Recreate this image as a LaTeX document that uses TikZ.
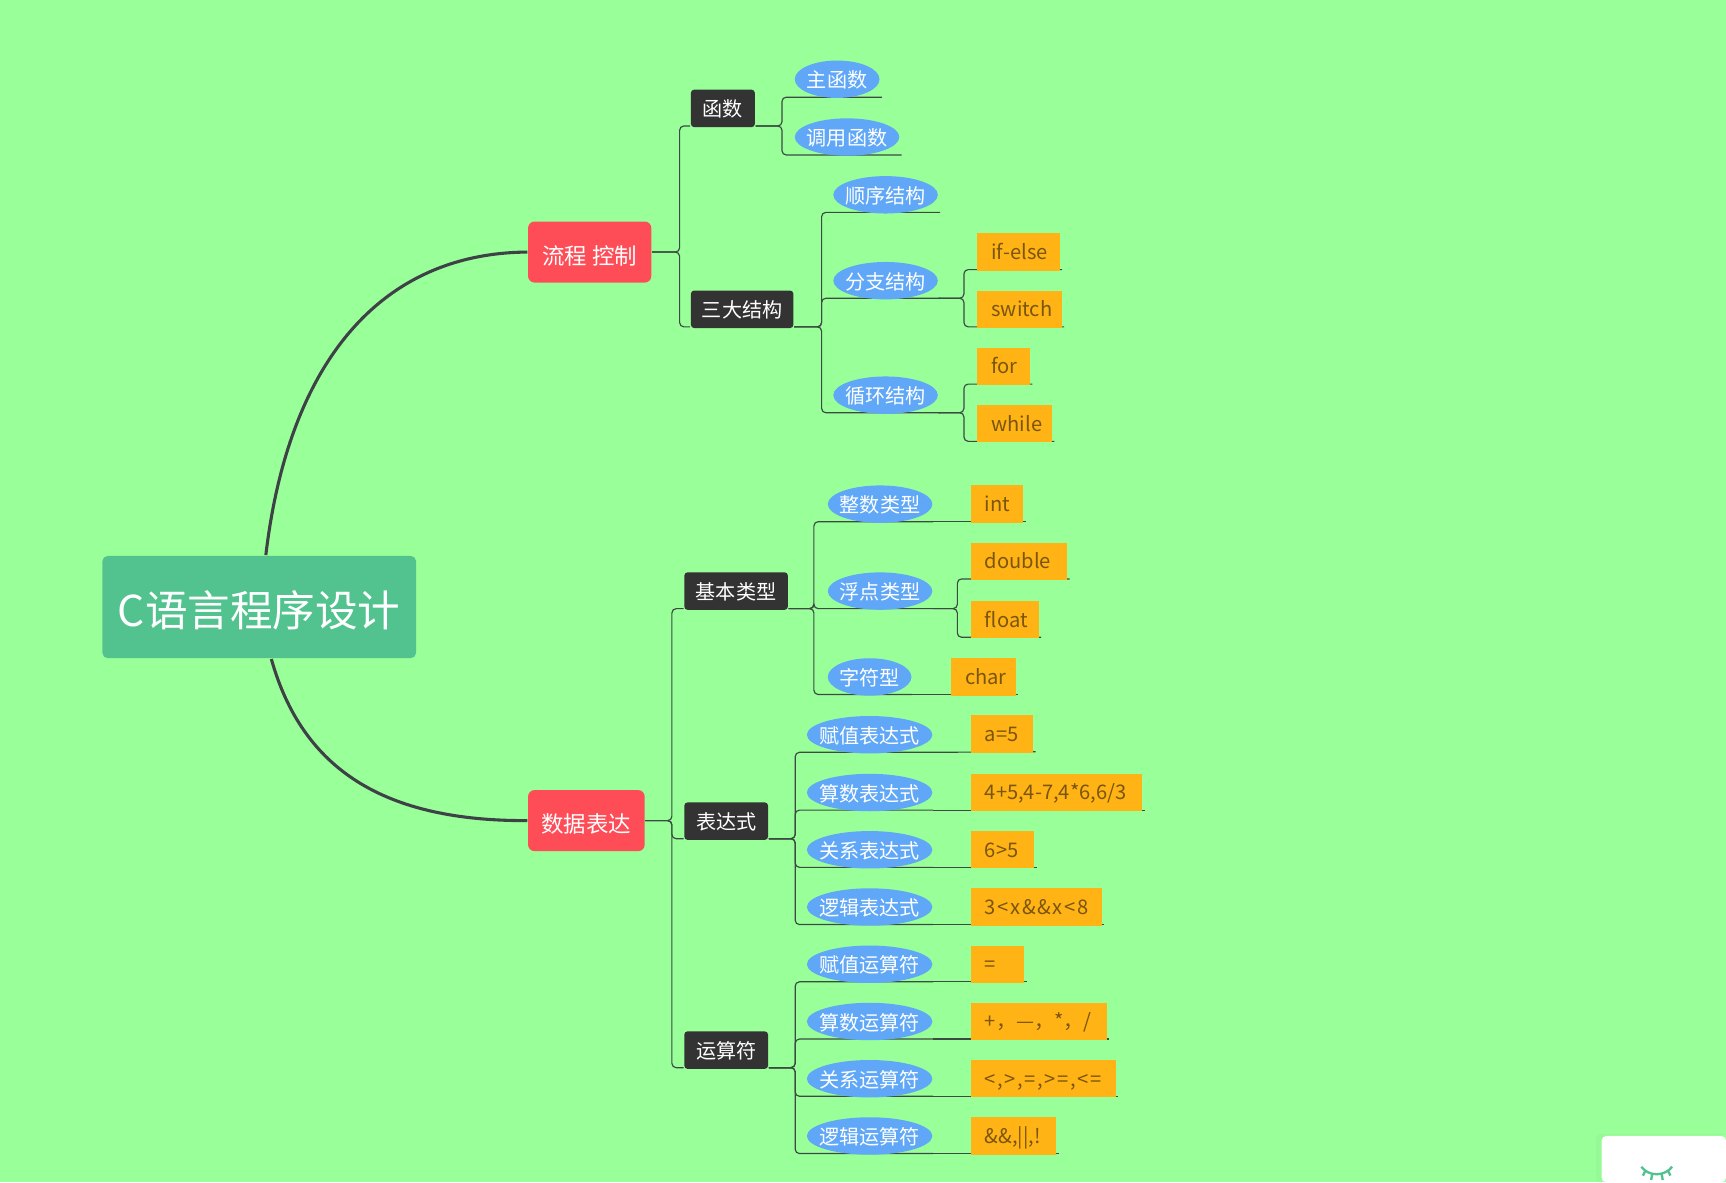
\documentclass[tikz,border=0pt]{standalone}
\usepackage{fontspec}
\setmainfont{Noto Sans CJK SC}
\usepackage{tikz}
\usetikzlibrary{backgrounds, shapes.geometric}
\definecolor{pagegreen}{HTML}{99FF99}
\definecolor{rootgreen}{HTML}{52C28F}
\definecolor{topicred}{HTML}{FF4D57}
\definecolor{subdark}{HTML}{333333}
\definecolor{itemblue}{HTML}{60A8F7}
\definecolor{leaforange}{HTML}{FFB314}
\definecolor{leaftext}{HTML}{7A5510}
\definecolor{linegrey}{HTML}{3B4A42}
\definecolor{trunkgrey}{HTML}{3E4145}
\newcommand{\wideops}{\addfontfeature{LetterSpace=8}}
\tikzset{
    rootbox/.style={fill=rootgreen, text=white, rounded corners=1.4pt, inner sep=0pt, minimum width=28.5mm, minimum height=9.3mm, text height=10.2pt, text depth=0pt, font=\fontsize{11pt}{12pt}\selectfont},
    topic/.style={fill=topicred, text=white, rounded corners=1.7pt, inner sep=0pt, minimum height=5.55mm, text height=6.2pt, text depth=0pt, anchor=west, font=\fontsize{5.8pt}{7pt}\selectfont},
    sub/.style={fill=subdark, text=white, rounded corners=.8pt, inner sep=0pt, minimum height=3.4mm, text height=4.4pt, text depth=0pt, anchor=west, font=\fontsize{5.2pt}{6pt}\selectfont},
    item/.style={ellipse, fill=itemblue, text=white, inner sep=-5mm, minimum height=3.4mm, text height=4.5pt, text depth=0pt, font=\fontsize{5.2pt}{6pt}\selectfont},
    leaf/.style={fill=leaforange, text=leaftext, inner xsep=1.3mm, inner ysep=0pt, minimum height=3.4mm, text height=4.7pt, text depth=.9pt, anchor=west, align=left, font=\fontsize{5.2pt}{6pt}\selectfont},
    link/.style={draw=linegrey, line width=.3pt, rounded corners=1.1pt},
    trunk/.style={draw=trunkgrey, line width=.8pt},
}
\begin{document}
\begin{tikzpicture}[x=.1mm, y=-.1mm]
    \useasboundingbox (0,0) rectangle (1568,1074);
    \begin{scope}[on background layer]
        \fill[pagegreen] (0,0) rectangle (1568,1074);
    \end{scope}

    % 中心主题
    \node[rootbox] (root) at (235.5,551.5) {C语言程序设计};

    % 流程控制
    \node[topic, minimum width=11.2mm] (flow) at (479,229) {流程 控制};
    \node[sub, minimum width=5.8mm] (func) at (627,98.5) {函数};
    \node[sub, minimum width=9.3mm] (struct) at (627,281) {三大结构};

    \node[item, minimum width=7.7mm] (mainfn) at (760.5,72) {主函数};
    \node[item, minimum width=9.5mm] (callfn) at (769.5,124.5) {调用函数};
    \node[item, minimum width=9.5mm] (seq) at (804.5,177) {顺序结构};
    \node[item, minimum width=9.5mm] (choice) at (804.5,255) {分支结构};
    \node[item, minimum width=9.5mm] (cycle) at (804.5,359) {循环结构};

    \node[leaf, text width=4.9mm] (ifelse) at (887,229) {\mbox{if-else}};
    \node[leaf, text width=5.1mm] (swi) at (887,281) {switch};
    \node[leaf, text width=2.2mm] (forl) at (887,333) {for};
    \node[leaf, text width=4.2mm] (whilel) at (887,385) {while};

    % 数据表达
    \node[topic, minimum width=10.6mm] (data) at (479,745.5) {数据表达};
    \node[sub, minimum width=9.4mm] (basic) at (621,537) {基本类型};
    \node[sub, minimum width=7.6mm] (expr) at (621,746) {表达式};
    \node[sub, minimum width=7.6mm] (oper) at (621,954) {运算符};

    % 基本类型
    \node[item, minimum width=9.5mm] (whole) at (799.5,458) {整数类型};
    \node[item, minimum width=9.5mm] (real) at (799.5,537) {浮点类型};
    \node[item, minimum width=7.6mm] (letter) at (790,615) {字符型};
    \node[leaf, text width=2.2mm] (intk) at (881,458) {int};
    \node[leaf, text width=6.2mm] (doublek) at (881,510) {double};
    \node[leaf, text width=3.6mm] (floatk) at (881,563) {float};
    \node[leaf, text width=3.3mm] (chark) at (863,615) {char};

    % 表达式
    \node[item, minimum width=11.4mm] (assignexpr) at (790,667.5) {赋值表达式};
    \node[item, minimum width=11.4mm] (arithexpr) at (790,720) {算数表达式};
    \node[item, minimum width=11.4mm] (relexpr) at (790,772) {关系表达式};
    \node[item, minimum width=11.4mm] (logicexpr) at (790,824) {逻辑表达式};
    \node[leaf, text width=3.1mm] (assignval) at (881,667) {a=5};
    \node[leaf, text width=13mm] (arithval) at (881,720) {\mbox{4+5,4-7,4*6,6/3}};
    \node[leaf, text width=3.2mm] (relval) at (881,772) {6>5};
    \node[leaf, text width=9.3mm] (logicval) at (881,824) {\wideops 3<x\&\&x<8};

    % 运算符
    \node[item, minimum width=11.4mm] (assignop) at (790,876) {赋值运算符};
    \node[item, minimum width=11.4mm] (arithop) at (790,928) {算数运算符};
    \node[item, minimum width=11.4mm] (relop) at (790,980) {关系运算符};
    \node[item, minimum width=11.4mm] (logicop) at (790,1032) {逻辑运算符};
    \node[leaf, text width=2.3mm] (assignsym) at (881,876) {=};
    \node[leaf, text width=9.8mm] (arithsym) at (881,928) {\mbox{+，—，*，/}};
    \node[leaf, text width=10.6mm] (relsym) at (881,980) {\wideops \mbox{<,>,=,>=,<=}};
    \node[leaf, text width=5.2mm] (logicsym) at (881,1032) {\&\&,||,!};

    \begin{scope}[on background layer]
        % 主干
        \draw[trunk] ([xshift=.6mm]root.north) .. controls (262,330) and (345,230) .. (flow.west);
        \draw[trunk] ([xshift=1.1mm]root.south) .. controls (275,700) and (350,746) .. (data.west);

        % 分支
        \foreach \kid in {func,struct}
            \draw[link] (flow.east) -- ++(25,0) |- ([yshift=.5pt]\kid.south west);
        \foreach \kid in {basic,expr,oper}
            \draw[link] (data.east) -- ++(24,0) |- ([yshift=.5pt]\kid.south west);
        \foreach \kid in {mainfn,callfn}
            \draw[link] ([yshift=.5pt]func.south east) -- ++(24,0) |- ([xshift=.4pt,yshift=.4pt]\kid.south -| \kid.east);
        \foreach \kid in {seq,choice,cycle}
            \draw[link] ([yshift=.5pt]struct.south east) -- ++(25,0) |- ([xshift=.4pt,yshift=.5pt]\kid.south -| \kid.east);
        \foreach \kid in {whole,real,letter}
            \draw[link] ([yshift=.5pt]basic.south east) -- ++(23,0) |- ([yshift=.5pt]\kid.south -| \kid.east);
        \foreach \kid in {assignexpr,arithexpr,relexpr,logicexpr}
            \draw[link] ([yshift=.5pt]expr.south east) -- ++(24,0) |- ([yshift=.5pt]\kid.south -| \kid.east);
        \foreach \kid in {assignop,arithop,relop,logicop}
            \draw[link] ([yshift=.5pt]oper.south east) -- ++(24,0) |- ([yshift=.5pt]\kid.south -| \kid.east);

        % 叶子
        \foreach \kid in {ifelse,swi}
            \draw[link] ([yshift=.5pt]choice.south -| choice.east) -- ++(23,0) |- ([xshift=.4pt,yshift=.5pt]\kid.south -| \kid.east);
        \foreach \kid in {forl,whilel}
            \draw[link] ([yshift=.5pt]cycle.south -| cycle.east) -- ++(23,0) |- ([xshift=.4pt,yshift=.5pt]\kid.south -| \kid.east);
        \foreach \kid in {doublek,floatk}
            \draw[link] ([yshift=.5pt]real.south -| real.east) -- ++(22,0) |- ([xshift=.4pt,yshift=.5pt]\kid.south -| \kid.east);
        \foreach \from/\kid in {whole/intk,letter/chark,assignexpr/assignval,arithexpr/arithval,relexpr/relval,logicexpr/logicval,assignop/assignsym,arithop/arithsym,relop/relsym,logicop/logicsym}
            \draw[link] ([yshift=.5pt]\from.south -| \from.east) -- ([xshift=.4pt,yshift=.5pt]\kid.south -| \kid.east);
    \end{scope}

    % 右下角按钮
    \fill[black, opacity=.025, rounded corners=1.2pt] (1450,1074) |- (1568,1030);
    \fill[white, rounded corners=1.2pt] (1455,1074) |- (1568,1032) -- (1568,1074) -- cycle;
    \draw[rootgreen, line width=.6pt] (1491,1060) .. controls (1498,1069) and (1512,1069) .. (1519,1060);
    \draw[rootgreen, line width=.6pt] (1495,1063) -- (1492.5,1068) (1501,1066) -- (1500,1072) (1509.5,1066) -- (1510.5,1072) (1515,1063) -- (1517.5,1068);
\end{tikzpicture}
\end{document}
